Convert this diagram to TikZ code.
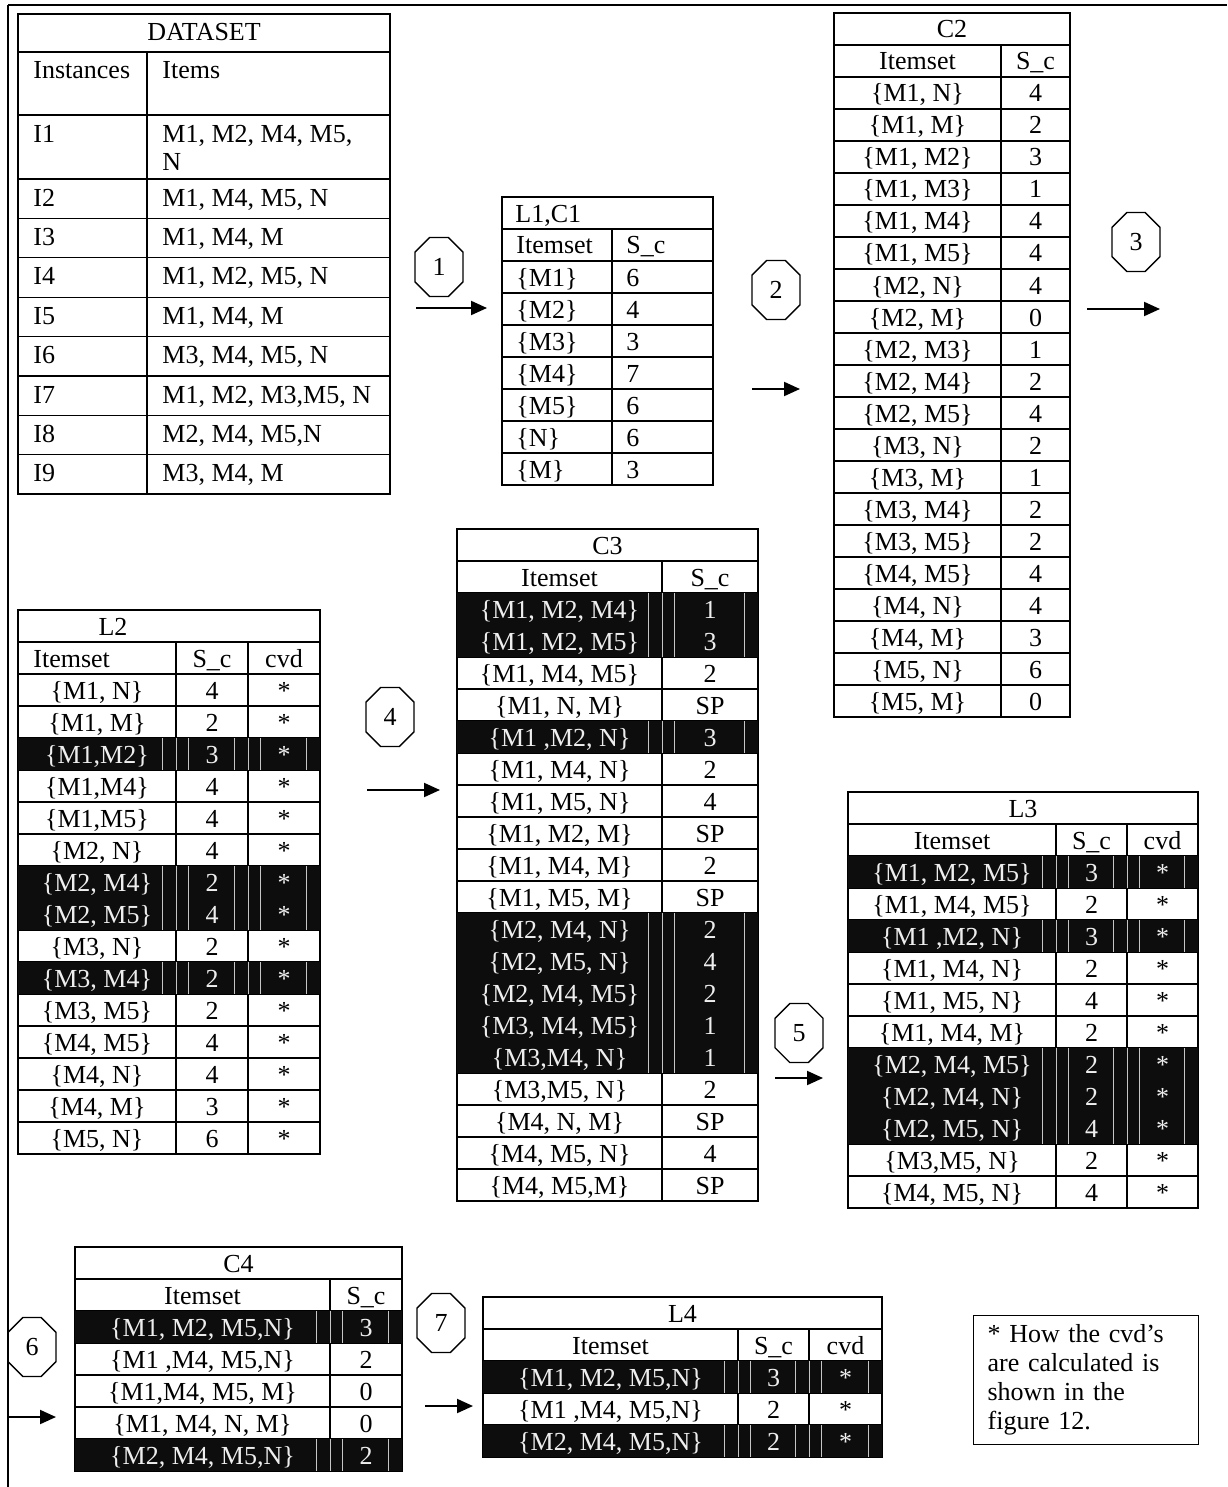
\documentclass[tikz,border=0pt]{standalone}
\usepackage{fontspec}
\setmainfont{Liberation Serif}
\usetikzlibrary{positioning}
\usetikzlibrary{shapes.misc}
\usetikzlibrary{arrows.meta}

\definecolor{rowblack}{HTML}{0D0D0D}
\definecolor{rowtext}{HTML}{EEEEEE}

\begin{document}
\begin{tikzpicture}[x=0.5pt, y=-0.5pt,
  tabline/.style={black, line width=0.6pt},
  cell/.style={inner sep=0pt, anchor=base, font=\fontsize{13}{15}\selectfont},
  lcell/.style={cell, anchor=base west},
  row hl/.style={fill=rowblack},
  row nl/.style={},
  txt hl/.style={text=rowtext},
  txt nl/.style={},
  art hl/.style={draw=gray!45, line width=0.25pt},
  art nl/.style={draw=none},
  stagebox/.style={draw, line width=0.7pt, chamfered rectangle, chamfered rectangle xsep=6.5pt,
    minimum width=24pt, minimum height=29.5pt, inner sep=0pt, font=\fontsize{13}{15}\selectfont},
  flow/.style={line width=1pt, -{Triangle[length=8pt, width=7pt]}},
  notebox/.style={draw, line width=0.6pt, anchor=north west, align=left, text width=98.5pt,
    inner xsep=7pt, inner ysep=4.5pt, font=\fontsize{13}{14.5}\selectfont}
]

\useasboundingbox (0,0) rectangle (1227,1487);

% frame
\draw[line width=1.2pt] (8,5) -- (1227,5);
\draw[line width=1pt] (8,5) -- (8,1487);


% DATASET
\begin{scope}[shift={(18,14)}]
\draw[tabline] (0,0) rectangle (372,480);
\draw[tabline] (0,38) -- (372,38);
\draw[tabline] (0,101) -- (372,101);
\draw[tabline] (129,38) -- (129,480);
\foreach \i in {0,...,7}
\draw[tabline] (0,165+39.4*\i) -- (372,165+39.4*\i);

\node[cell] (dataset) at (186,27) {DATASET};
\node[lcell] (insthead) at (15,65) {Instances};
\node[lcell] (itemhead) at (144,65) {Items};
\node[lcell] (inst1) at (15,129) {I1};
\node[lcell] (items1a) at (144,129) {M1, M2, M4, M5,};
\node[lcell] (items1b) at (144,157) {N};

\foreach \itm [count=\i from 2] in {{M1, M4, M5, N}, {M1, M4, M}, {M1, M2, M5, N}, {M1, M4, M},
  {M3, M4, M5, N}, {M1, M2, M3,M5, N}, {M2, M4, M5,N}, {M3, M4, M}}
{
\node[lcell] (inst\i) at (15,113.2+39.4*\i) {I\i};
\node[lcell] (items\i) at (144,113.2+39.4*\i) {\itm};
}
\end{scope}


% L1,C1
\begin{scope}[shift={(502,197)}]
\draw[tabline] (0,0) rectangle (211,288);
\foreach \i in {1,...,8}
\draw[tabline] (0,32*\i) -- (211,32*\i);
\draw[tabline] (110,32) -- (110,288);

\node[lcell] (l1c1) at (13,25) {L1,C1};
\node[lcell] (l1head1) at (14,57) {Itemset};
\node[lcell] (l1head2) at (124,57) {S\_c};

\foreach \itm/\cnt [count=\i from 0] in {M1/6, M2/4, M3/3, M4/7, M5/6, N/6, M/3}
{
\node[lcell] (l1a\i) at (14,89+32*\i) {\{\itm\}};
\node[lcell] (l1b\i) at (124,89+32*\i) {\cnt};
}
\end{scope}


% C2
\begin{scope}[shift={(834,13)}]
\draw[tabline] (0,0) rectangle (236,704);
\foreach \i in {1,...,21}
\draw[tabline] (0,32*\i) -- (236,32*\i);
\draw[tabline] (167,32) -- (167,704);

\node[cell] (c2) at (118,25) {C2};
\node[cell] (c2head1) at (83.5,57) {Itemset};
\node[cell] (c2head2) at (201.5,57) {S\_c};

\foreach \itm/\cnt [count=\i from 0] in {{M1, N}/4, {M1, M}/2, {M1, M2}/3, {M1, M3}/1, {M1, M4}/4,
  {M1, M5}/4, {M2, N}/4, {M2, M}/0, {M2, M3}/1, {M2, M4}/2, {M2, M5}/4, {M3, N}/2, {M3, M}/1,
  {M3, M4}/2, {M3, M5}/2, {M4, M5}/4, {M4, N}/4, {M4, M}/3, {M5, N}/6, {M5, M}/0}
{
\node[cell] (c2a\i) at (83.5,89+32*\i) {\{\itm\}};
\node[cell] (c2b\i) at (201.5,89+32*\i) {\cnt};
}
\end{scope}


% L2
\begin{scope}[shift={(18,610)}]
\draw[tabline] (0,0) rectangle (302,544);
\foreach \i in {1,...,16}
\draw[tabline] (0,32*\i) -- (302,32*\i);
\draw[tabline] (158,32) -- (158,544);
\draw[tabline] (230,32) -- (230,544);

\node[cell] (l2) at (95,25) {L2};
\node[lcell] (l2head1) at (15,57) {Itemset};
\node[cell] (l2head2) at (194,57) {S\_c};
\node[cell] (l2head3) at (266,57) {cvd};

\foreach \itm/\cnt/\kind [count=\i from 0] in {{M1, N}/4/nl, {M1, M}/2/nl, {M1,M2}/3/hl,
  {M1,M4}/4/nl, {M1,M5}/4/nl, {M2, N}/4/nl, {M2, M4}/2/hl, {M2, M5}/4/hl, {M3, N}/2/nl,
  {M3, M4}/2/hl, {M3, M5}/2/nl, {M4, M5}/4/nl, {M4, N}/4/nl, {M4, M}/3/nl, {M5, N}/6/nl}
{
\path[row \kind] (0,64+32*\i) rectangle (302,96+32*\i);
\foreach \xx in {144,158,170,216,230,242,288}
\draw[art \kind] (\xx,64+32*\i) -- ++(0,32);
\node[cell, txt \kind] (l2a\i) at (79,89+32*\i) {\{\itm\}};
\node[cell, txt \kind] (l2b\i) at (194,89+32*\i) {\cnt};
\node[cell, txt \kind] (l2c\i) at (266,89+32*\i) {*};
}
\end{scope}


% C3
\begin{scope}[shift={(457,529)}]
\draw[tabline] (0,0) rectangle (301,672);
\foreach \i in {1,...,20}
\draw[tabline] (0,32*\i) -- (301,32*\i);
\draw[tabline] (205,32) -- (205,672);

\node[cell] (c3) at (150.5,25) {C3};
\node[cell] (c3head1) at (102.5,57) {Itemset};
\node[cell] (c3head2) at (253,57) {S\_c};

\foreach \itm/\cnt/\kind [count=\i from 0] in {{M1, M2, M4}/1/hl, {M1, M2, M5}/3/hl,
  {M1, M4, M5}/2/nl, {M1, N, M}/SP/nl, {M1 ,M2, N}/3/hl, {M1, M4, N}/2/nl, {M1, M5, N}/4/nl,
  {M1, M2, M}/SP/nl, {M1, M4, M}/2/nl, {M1, M5, M}/SP/nl, {M2, M4, N}/2/hl, {M2, M5, N}/4/hl,
  {M2, M4, M5}/2/hl, {M3, M4, M5}/1/hl, {M3,M4, N}/1/hl, {M3,M5, N}/2/nl, {M4, N, M}/SP/nl,
  {M4, M5, N}/4/nl, {M4, M5,M}/SP/nl}
{
\path[row \kind] (0,64+32*\i) rectangle (301,96+32*\i);
\foreach \xx in {191,205,217,287}
\draw[art \kind] (\xx,64+32*\i) -- ++(0,32);
\node[cell, txt \kind] (c3a\i) at (102.5,89+32*\i) {\{\itm\}};
\node[cell, txt \kind] (c3b\i) at (253,89+32*\i) {\cnt};
}
\end{scope}


% L3
\begin{scope}[shift={(848,792)}]
\draw[tabline] (0,0) rectangle (350,416);
\foreach \i in {1,...,12}
\draw[tabline] (0,32*\i) -- (350,32*\i);
\draw[tabline] (208,32) -- (208,416);
\draw[tabline] (279,32) -- (279,416);

\node[cell] (l3) at (175,25) {L3};
\node[cell] (l3head1) at (104,57) {Itemset};
\node[cell] (l3head2) at (243.5,57) {S\_c};
\node[cell] (l3head3) at (314.5,57) {cvd};

\foreach \itm/\cnt/\kind [count=\i from 0] in {{M1, M2, M5}/3/hl, {M1, M4, M5}/2/nl,
  {M1 ,M2, N}/3/hl, {M1, M4, N}/2/nl, {M1, M5, N}/4/nl, {M1, M4, M}/2/nl, {M2, M4, M5}/2/hl,
  {M2, M4, N}/2/hl, {M2, M5, N}/4/hl, {M3,M5, N}/2/nl, {M4, M5, N}/4/nl}
{
\path[row \kind] (0,64+32*\i) rectangle (350,96+32*\i);
\foreach \xx in {194,208,220,265,279,291,336}
\draw[art \kind] (\xx,64+32*\i) -- ++(0,32);
\node[cell, txt \kind] (l3a\i) at (104,89+32*\i) {\{\itm\}};
\node[cell, txt \kind] (l3b\i) at (243.5,89+32*\i) {\cnt};
\node[cell, txt \kind] (l3c\i) at (314.5,89+32*\i) {*};
}
\end{scope}


% C4
\begin{scope}[shift={(75,1247)}]
\draw[tabline] (0,0) rectangle (327,224);
\foreach \i in {1,...,6}
\draw[tabline] (0,32*\i) -- (327,32*\i);
\draw[tabline] (255,32) -- (255,224);

\node[cell] (c4) at (163.5,25) {C4};
\node[cell] (c4head1) at (127.5,57) {Itemset};
\node[cell] (c4head2) at (291,57) {S\_c};

\foreach \itm/\cnt/\kind [count=\i from 0] in {{M1, M2, M5,N}/3/hl, {M1 ,M4, M5,N}/2/nl,
  {M1,M4, M5, M}/0/nl, {M1, M4, N, M}/0/nl, {M2, M4, M5,N}/2/hl}
{
\path[row \kind] (0,64+32*\i) rectangle (327,96+32*\i);
\foreach \xx in {241,255,267,313}
\draw[art \kind] (\xx,64+32*\i) -- ++(0,32);
\node[cell, txt \kind] (c4a\i) at (127.5,89+32*\i) {\{\itm\}};
\node[cell, txt \kind] (c4b\i) at (291,89+32*\i) {\cnt};
}
\end{scope}


% L4
\begin{scope}[shift={(483,1297)}]
\draw[tabline] (0,0) rectangle (399,160);
\foreach \i in {1,...,4}
\draw[tabline] (0,32*\i) -- (399,32*\i);
\draw[tabline] (255,32) -- (255,160);
\draw[tabline] (326,32) -- (326,160);

\node[cell] (l4) at (199.5,25) {L4};
\node[cell] (l4head1) at (127.5,57) {Itemset};
\node[cell] (l4head2) at (290.5,57) {S\_c};
\node[cell] (l4head3) at (362.5,57) {cvd};

\foreach \itm/\cnt/\kind [count=\i from 0] in {{M1, M2, M5,N}/3/hl, {M1 ,M4, M5,N}/2/nl,
  {M2, M4, M5,N}/2/hl}
{
\path[row \kind] (0,64+32*\i) rectangle (399,96+32*\i);
\foreach \xx in {241,255,267,312,326,338,385}
\draw[art \kind] (\xx,64+32*\i) -- ++(0,32);
\node[cell, txt \kind] (l4a\i) at (127.5,89+32*\i) {\{\itm\}};
\node[cell, txt \kind] (l4b\i) at (290.5,89+32*\i) {\cnt};
\node[cell, txt \kind] (l4c\i) at (362.5,89+32*\i) {*};
}
\end{scope}


% stages
\node[stagebox] (stage1) at (439,267) {1};
\node[stagebox] (stage2) at (776,290) {2};
\node[stagebox] (stage3) at (1136,242) {3};
\node[stagebox] (stage4) at (390,717) {4};
\node[stagebox] (stage5) at (799,1033) {5};
\node[stagebox] (stage6) at (32,1347) {6};
\node[stagebox] (stage7) at (441,1323) {7};

% arrows
\coordinate (flow1a) at (416,308);
\coordinate (flow1b) at (487,308);
\coordinate (flow2a) at (752,389);
\coordinate (flow2b) at (800,389);
\coordinate (flow3a) at (1087,309);
\coordinate (flow3b) at (1160,309);
\coordinate (flow4a) at (367,790);
\coordinate (flow4b) at (440,790);
\coordinate (flow5a) at (775,1078);
\coordinate (flow5b) at (823,1078);
\coordinate (flow6a) at (8,1417);
\coordinate (flow6b) at (56,1417);
\coordinate (flow7a) at (425,1406);
\coordinate (flow7b) at (473,1406);

\foreach \k in {1,...,7}
\draw[flow] (flow\k a) -- (flow\k b);

% note
\node[notebox] (note) at (973,1315) {* How the cvd’s\\are calculated is\\shown in the\\figure 12.};

\end{tikzpicture}
\end{document}
